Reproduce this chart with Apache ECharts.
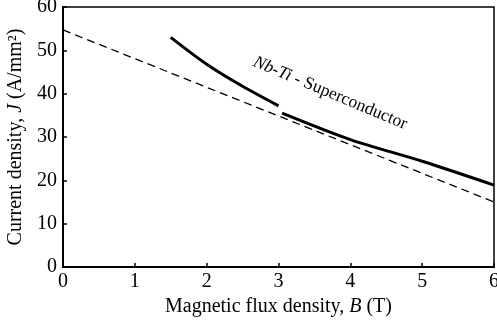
<!DOCTYPE html>
<html>
<head>
<meta charset="utf-8">
<script src="https://cdn.jsdelivr.net/npm/echarts@6/dist/echarts.min.js"></script>
<style>
  html, body { margin: 0; padding: 0; background: #fff; }
  #chart { width: 497px; height: 323px; }
</style>
</head>
<body>
<div id="chart"></div>
<script>
// values
const lowFieldCurve = [[1.5, 53], [2, 46.8], [2.5, 41.7], [3, 37.2]];
const highFieldCurve = [[3.05, 35.5], [4, 29.4], [5, 24.4], [6, 18.9]];
const referenceLine = [[0, 54.7], [6, 15]];
const labelAnchor = [3.72, 40.1];

const serif = '"Liberation Serif", "DejaVu Serif", serif';

const chart = echarts.init(document.getElementById('chart'));
chart.setOption({
    animation: false,
    grid: {
        left: 63,
        right: 3,
        top: 7,
        bottom: 56,
        outerBoundsMode: 'none',
        show: true,
        borderColor: '#000',
        borderWidth: 1.5,
    },
    xAxis: {
        type: 'value',
        min: 0,
        max: 6,
        interval: 1,
        name: '{n|Magnetic flux density, }{i|B}{n| (T)}',
        nameLocation: 'middle',
        nameGap: 21,
        nameTextStyle: {
            rich: {
                n: {fontFamily: serif, fontSize: 20, color: '#000'},
                i: {fontFamily: serif, fontSize: 20, color: '#000', fontStyle: 'italic'},
            },
        },
        axisLine: {lineStyle: {color: '#000', width: 2}},
        axisTick: {inside: true, length: 4, lineStyle: {color: '#000', width: 1.5}},
        axisLabel: {fontFamily: serif, fontSize: 20, color: '#000', margin: 5},
        splitLine: {show: false},
    },
    yAxis: {
        type: 'value',
        min: 0,
        max: 60,
        interval: 10,
        name: '{n|Current density, }{i|J}{n| (A/mm²)}',
        nameLocation: 'middle',
        nameGap: 36,
        nameTextStyle: {
            rich: {
                n: {fontFamily: serif, fontSize: 20, color: '#000'},
                i: {fontFamily: serif, fontSize: 20, color: '#000', fontStyle: 'italic'},
            },
        },
        axisLine: {show: true, lineStyle: {color: '#000', width: 2}},
        axisTick: {show: true, inside: true, length: 4, lineStyle: {color: '#000', width: 1.5}},
        axisLabel: {fontFamily: serif, fontSize: 20, color: '#000', margin: 6},
        splitLine: {show: false},
    },
    series: [
        {
            name: 'Reference',
            type: 'line',
            data: referenceLine,
            showSymbol: false,
            lineStyle: {color: '#000', width: 1.3, type: [8, 5]},
        },
        {
            name: 'Nb-Ti low field',
            type: 'line',
            data: lowFieldCurve,
            smooth: 0.3,
            showSymbol: false,
            lineStyle: {color: '#000', width: 3},
        },
        {
            name: 'Nb-Ti high field',
            type: 'line',
            data: highFieldCurve,
            smooth: 0.3,
            showSymbol: false,
            lineStyle: {color: '#000', width: 3},
        },
    ],
});

const [lx, ly] = chart.convertToPixel({gridIndex: 0}, labelAnchor);
chart.setOption({
    graphic: [{
        type: 'text',
        x: lx,
        y: ly,
        rotation: -22.7 * Math.PI / 180,
        style: {
            text: '{i|Nb-Ti}{n| - Superconductor}',
            align: 'center',
            verticalAlign: 'middle',
            rich: {
                n: {fontFamily: serif, fontSize: 17.5, fill: '#000'},
                i: {fontFamily: serif, fontSize: 17.5, fill: '#000', fontStyle: 'italic'},
            },
        },
    }],
});
</script>
</body>
</html>
